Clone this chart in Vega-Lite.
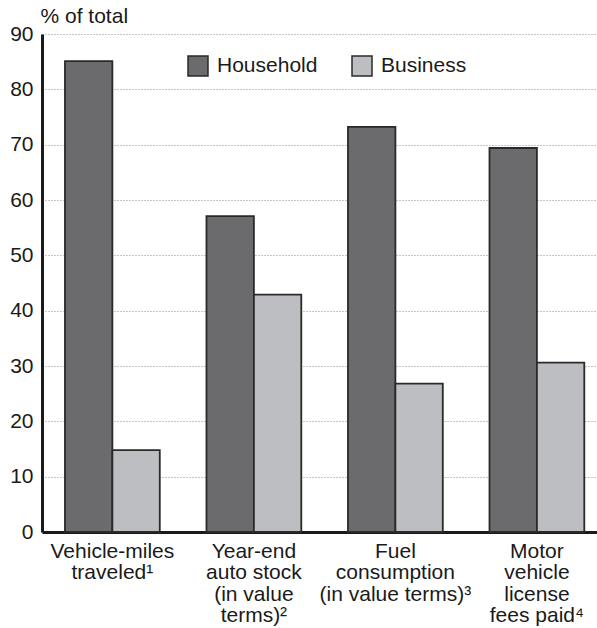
{
  "$schema": "https://vega.github.io/schema/vega-lite/v6.json",
  "width": 555,
  "height": 498,
  "autosize": {"type": "none"},
  "padding": {"left": 42, "top": 34, "right": 0, "bottom": 96},
  "background": "white",
  "config": {
    "font": "Liberation Sans",
    "view": {"stroke": null},
    "axis": {"labelFont": "Liberation Sans", "titleFont": "Liberation Sans"}
  },
  "data": {
    "values": [
      {"cat": "Vehicle-miles|traveled¹", "sector": "Household", "value": 85.1},
      {"cat": "Vehicle-miles|traveled¹", "sector": "Business", "value": 14.8},
      {"cat": "Year-end|auto stock|(in value|terms)²", "sector": "Household", "value": 57.1},
      {"cat": "Year-end|auto stock|(in value|terms)²", "sector": "Business", "value": 42.9},
      {"cat": "Fuel|consumption|(in value terms)³", "sector": "Household", "value": 73.2},
      {"cat": "Fuel|consumption|(in value terms)³", "sector": "Business", "value": 26.8},
      {"cat": "Motor|vehicle|license|fees paid⁴", "sector": "Household", "value": 69.4},
      {"cat": "Motor|vehicle|license|fees paid⁴", "sector": "Business", "value": 30.6}
    ]
  },
  "mark": {"type": "bar", "stroke": "#2a2a2a", "strokeWidth": 1.8},
  "encoding": {
    "x": {
      "field": "cat",
      "type": "nominal",
      "sort": null,
      "scale": {"paddingInner": 0.33, "paddingOuter": 0.126, "align": 0.644},
      "axis": {
        "title": null,
        "labelAngle": 0,
        "labelExpr": "split(datum.value, '|')",
        "labelFontSize": 21,
        "labelColor": "#1a1a1a",
        "labelLineHeight": 21.5,
        "labelBaseline": "top",
        "labelPadding": 8,
        "ticks": false,
        "domainColor": "#1a1a1a",
        "domainWidth": 3,
        "grid": false
      }
    },
    "xOffset": {
      "field": "sector",
      "type": "nominal",
      "sort": ["Household", "Business"],
      "scale": {"paddingInner": 0, "paddingOuter": 0}
    },
    "y": {
      "field": "value",
      "type": "quantitative",
      "scale": {"domain": [0, 90], "nice": false},
      "axis": {
        "title": "% of total",
        "titleAngle": 0,
        "titleAlign": "left",
        "titleBaseline": "alphabetic",
        "titleX": -2,
        "titleY": -12,
        "titleFontSize": 21,
        "titleFontWeight": "normal",
        "titleColor": "#1a1a1a",
        "values": [0, 10, 20, 30, 40, 50, 60, 70, 80, 90],
        "labelFontSize": 21,
        "labelColor": "#1a1a1a",
        "labelPadding": 9,
        "ticks": false,
        "domainColor": "#1a1a1a",
        "domainWidth": 3,
        "grid": true,
        "gridColor": "#888888",
        "gridDash": [1, 2],
        "gridWidth": 1
      }
    },
    "fill": {
      "field": "sector",
      "type": "nominal",
      "sort": ["Household", "Business"],
      "scale": {"domain": ["Household", "Business"], "range": ["#6b6b6e", "#bdbec1"]},
      "legend": {
        "title": null,
        "orient": "none",
        "direction": "horizontal",
        "legendX": 145,
        "legendY": 21,
        "symbolType": "square",
        "symbolSize": 400,
        "symbolStrokeColor": "#2a2a2a",
        "symbolStrokeWidth": 1.5,
        "labelFontSize": 21,
        "labelColor": "#1a1a1a",
        "labelOffset": 8,
        "columnPadding": 31,
        "padding": 0
      }
    }
  }
}
